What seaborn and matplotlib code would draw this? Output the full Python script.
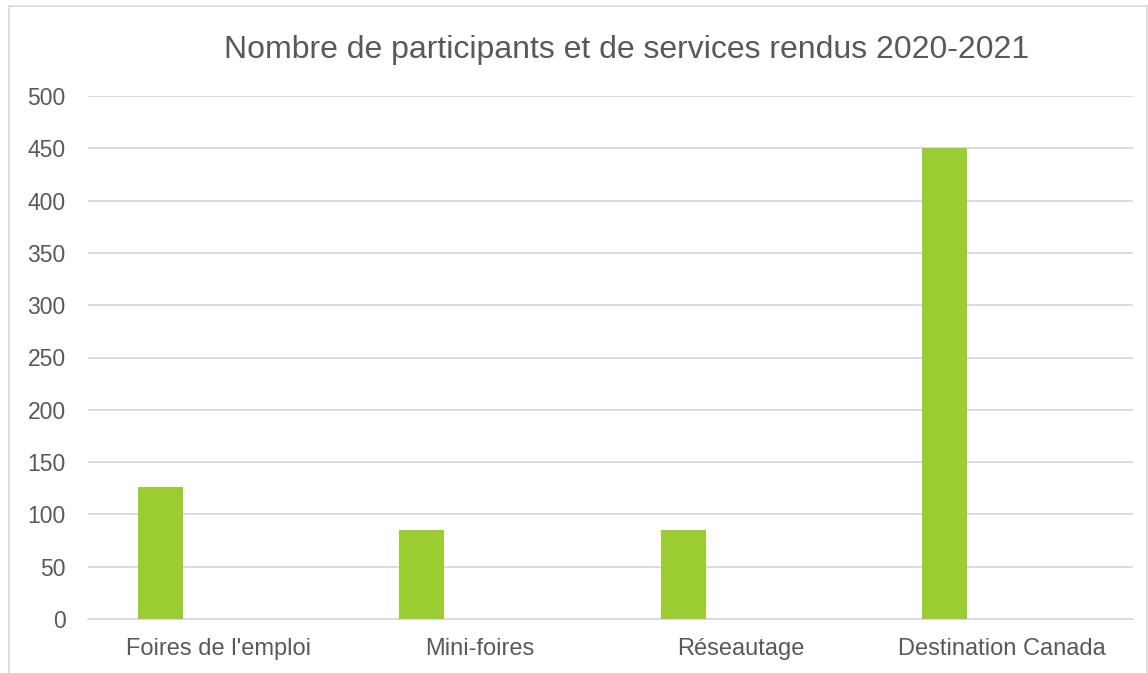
import matplotlib
matplotlib.use("Agg")
import matplotlib.pyplot as plt
import seaborn as sns
import pandas as pd
from matplotlib.patches import Rectangle

# data
categories = ["Foires de l'emploi", "Mini-foires", "Réseautage", "Destination Canada"]
values = [126, 85, 85, 450]
yticks = [0, 50, 100, 150, 200, 250, 300, 350, 400, 450, 500]
title = "Nombre de participants et de services rendus 2020-2021"

sns.set_theme(style="white")
plt.rcParams['font.family'] = ['Liberation Sans', 'DejaVu Sans']

text_color = "#595959"
grid_color = "#d9d9d9"
bar_color = "#9ACD32"

df = pd.DataFrame({"cat": categories, "val": values})

fig = plt.figure(figsize=(11.48, 6.73), dpi=100)
W, H = 1148, 673
ax = fig.add_axes([88 / W, 1 - 619 / H, (1133 - 88) / W, (619 - 96) / H])

sns.barplot(data=df, x="cat", y="val", color=bar_color, width=0.172,
            saturation=1, ax=ax, zorder=3)

# shift bars to the left within each category (empty second series in the original)
for p in ax.patches:
    p.set_x(p.get_x() - 0.222)
    p.set_edgecolor("none")

ax.set_xlim(-0.5, len(categories) - 0.5)
ax.set_ylim(0, 500)
ax.set_yticks(yticks)
ax.yaxis.grid(True, color=grid_color, linewidth=1.3, zorder=0)
ax.set_axisbelow(True)
for s in ["top", "right", "left"]:
    ax.spines[s].set_visible(False)
ax.spines["bottom"].set_color(grid_color)
ax.spines["bottom"].set_linewidth(1.3)

ax.set_xlabel("")
ax.set_ylabel("")
ax.tick_params(axis="y", length=0, pad=16, labelsize=16.5, labelcolor=text_color)
ax.tick_params(axis="x", length=0, pad=14, labelsize=17, labelcolor=text_color)

fig.text(627 / W, 1 - 50 / H, title, ha="center", va="center",
         fontsize=23, color=text_color)

# chart frame
fig.patches.append(Rectangle((9 / W, -0.01), (1147 - 9) / W, 1 - 6 / H + 0.01,
                             transform=fig.transFigure, fill=False,
                             edgecolor=grid_color, linewidth=1.2))

fig.savefig("out.png", dpi=100)
